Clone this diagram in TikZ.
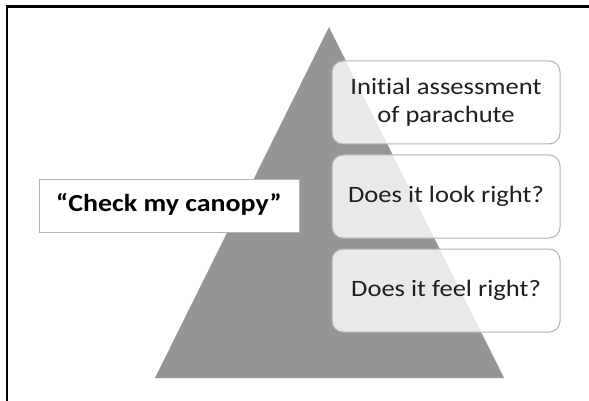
\documentclass[tikz,border=0pt]{standalone}
\usepackage{fontspec}
\usepackage{graphicx}
\setmainfont{Carlito}[Ligatures=NoCommon]
\definecolor{tri}{HTML}{959595}
\definecolor{edge}{HTML}{B4B4B4}
\newcommand{\stretchtxt}[2]{\scalebox{#1}[1]{\begin{tabular}{@{}c@{}}#2\end{tabular}}}
\tikzset{
  qbox/.style={draw=edge, line width=1pt, fill=white, fill opacity=0.8, text opacity=1, rounded corners=11pt, minimum width=228pt, minimum height=83pt, inner sep=0pt, align=center, font=\fontsize{23.5}{28}\selectfont, text=black!88},
  cbox/.style={draw=edge, line width=1pt, fill=white, minimum width=260pt, minimum height=53pt, inner sep=0pt, font=\bfseries\fontsize{24.5}{28}\selectfont},
}
\begin{document}
\begin{tikzpicture}[x=1pt,y=-1pt]
\useasboundingbox (0,0) rectangle (589,401);
\fill[white] (0,0) rectangle (589,401);
\draw[line width=2.2pt] (7,401) -- (7,6.5) -- (589,6.5);
\fill[tri] (329,27) -- (504,378) -- (155,378) -- cycle;
\node[qbox] (q1) at (446,102.5) {\stretchtxt{1.13}{Initial assessment\\of parachute}};
\node[qbox] (q2) at (446,196.5) {\stretchtxt{1.13}{Does it look right?}};
\node[qbox] (q3) at (446,290.5) {\stretchtxt{1.13}{Does it feel right?}};
\node[cbox] (c) at (169,205.5) {\stretchtxt{1.14}{“Check my canopy”}};
\end{tikzpicture}
\end{document}
